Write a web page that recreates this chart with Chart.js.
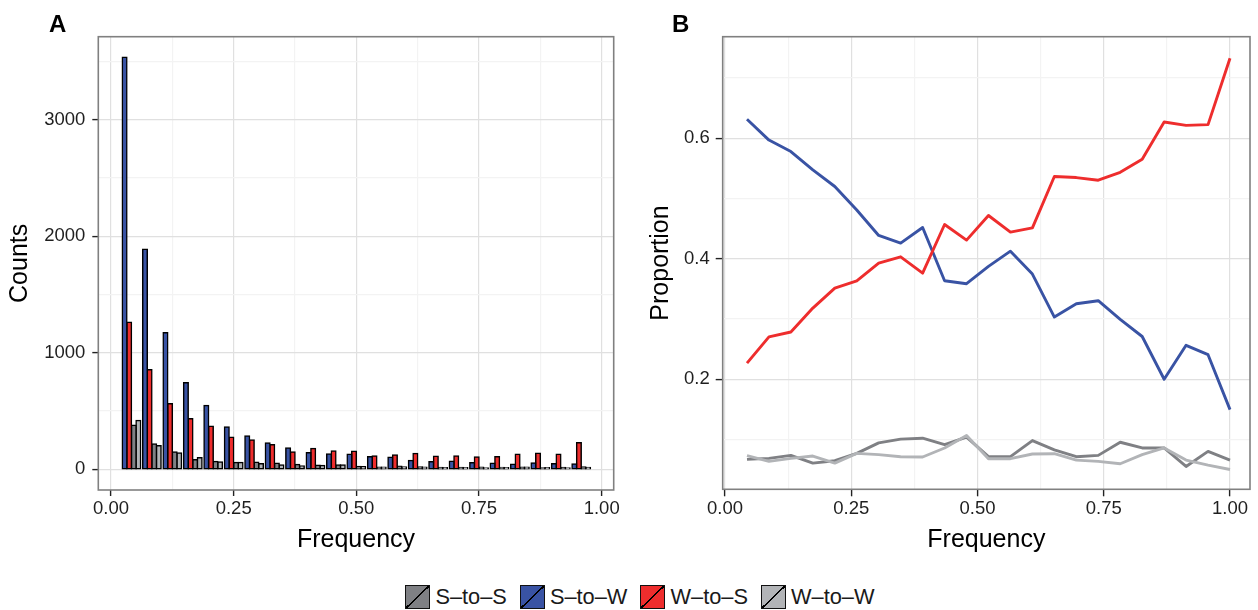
<!DOCTYPE html>
<html>
<head>
<meta charset="utf-8">
<script src="https://cdn.jsdelivr.net/npm/chart.js@4.4.0/dist/chart.umd.min.js"></script>
<style>
html,body{margin:0;padding:0;background:#fff;width:1258px;height:610px;overflow:hidden;font-family:'Liberation Sans',Arial,Helvetica,sans-serif;}
#cA{position:absolute;left:0;top:0;}
#cB{position:absolute;left:640px;top:0;}
.pl{position:absolute;font-weight:bold;font-size:24px;line-height:24px;color:#000;}
#legend{position:absolute;left:0;top:585px;width:1280px;height:24px;display:flex;justify-content:center;align-items:center;}
.item{display:flex;align-items:center;margin:0 6.5px;}
.sw{width:25px;height:24px;box-sizing:border-box;border:1.3px solid #111;}
.lt{font-size:21.8px;margin-left:5px;color:#1a1a1a;white-space:nowrap;}
</style>
</head>
<body>
<canvas id="cA" width="629" height="570"></canvas>
<canvas id="cB" width="618" height="570"></canvas>
<div class="pl" style="left:49px;top:11.7px;">A</div>
<div class="pl" style="left:672px;top:11.7px;">B</div>
<div id="legend"></div>
<script>
// ---------- DATA ----------
const seriesNames = ['S\u2013to\u2013S', 'S\u2013to\u2013W', 'W\u2013to\u2013S', 'W\u2013to\u2013W'];

// Panel A: counts per frequency bin (bin centres)
const binsA = [0.0417, 0.0833, 0.125, 0.1667, 0.2083, 0.25, 0.2917, 0.3333, 0.375, 0.4167, 0.4583, 0.5,
               0.5417, 0.5833, 0.625, 0.6667, 0.7083, 0.75, 0.7917, 0.8333, 0.875, 0.9167, 0.9583];
const countsSS = [378, 217, 149, 83, 68, 58, 62, 53, 41, 36, 38, 24, 18, 27, 21, 15, 16, 18, 17, 18, 12, 16, 20];
const countsSW = [3533, 1887, 1172, 742, 547, 364, 287, 226, 183, 143, 132, 129, 109, 103, 77, 66, 69, 57, 52, 43, 54, 49, 46];
const countsWS = [1262, 854, 562, 433, 370, 275, 252, 212, 149, 178, 158, 155, 115, 123, 135, 112, 115, 106, 109, 129, 138, 129, 229];
const countsWW = [418, 203, 140, 99, 63, 58, 49, 38, 29, 34, 38, 23, 18, 21, 19, 14, 14, 12, 14, 18, 14, 12, 16];

// Panel B: proportions per frequency point
const freqB = [0.0435, 0.087, 0.1304, 0.1739, 0.2174, 0.2609, 0.3043, 0.3478, 0.3913, 0.4348, 0.4783, 0.5217,
               0.5652, 0.6087, 0.6522, 0.6957, 0.7391, 0.7826, 0.8261, 0.8696, 0.913, 0.9565, 1.0];
const propSS = [0.0670, 0.0687, 0.0737, 0.0609, 0.0648, 0.0771, 0.0944, 0.1006, 0.1022, 0.0916, 0.1039, 0.0715,
                0.0715, 0.0983, 0.0827, 0.0715, 0.0737, 0.0955, 0.0860, 0.0860, 0.0553, 0.0804, 0.0659];
const propSW = [0.6315, 0.597, 0.578, 0.5475, 0.520, 0.481, 0.4387, 0.426, 0.452, 0.3635, 0.3586, 0.3873,
                0.4127, 0.3746, 0.3033, 0.3254, 0.3304, 0.2994, 0.271, 0.200, 0.2564, 0.2408, 0.1497];
const propWS = [0.2268, 0.2704, 0.2785, 0.3182, 0.3514, 0.3635, 0.3928, 0.4033, 0.3762, 0.4569, 0.431, 0.4718,
                0.4442, 0.4514, 0.5365, 0.5348, 0.5304, 0.5436, 0.5652, 0.627, 0.6215, 0.6227, 0.7328];
const propWW = [0.0732, 0.0637, 0.0687, 0.0726, 0.0609, 0.0771, 0.0749, 0.0715, 0.0710, 0.0860, 0.1067, 0.0682,
                0.0682, 0.0760, 0.0765, 0.0659, 0.0637, 0.0598, 0.0749, 0.0860, 0.0659, 0.0575, 0.0503];

// Ticks
const xTickValues = [0, 0.25, 0.5, 0.75, 1];
const xTickLabels = ['0.00', '0.25', '0.50', '0.75', '1.00'];
const xMinorValues = [0.125, 0.375, 0.625, 0.875];
const yTickValuesA = [0, 1000, 2000, 3000];
const yTickLabelsA = ['0', '1000', '2000', '3000'];
const yMinorValuesA = [500, 1500, 2500, 3500];
const yTickValuesB = [0.2, 0.4, 0.6];
const yTickLabelsB = ['0.2', '0.4', '0.6'];
const yMinorValuesB = [0.1, 0.3, 0.5, 0.7];

// ---------- STYLE ----------
const colSS = '#7F8084', colSW = '#3953A4', colWS = '#EE2D2D', colWW = '#B2B4B7';
const GRID_MAJOR = '#e0e0e0', GRID_MINOR = '#f3f3f3';
const FONT = "'Liberation Sans', Arial, Helvetica, sans-serif";
Chart.defaults.font.family = FONT;
Chart.defaults.animation = false;

function near(v, arr) { return arr.findIndex(a => Math.abs(a - v) < 1e-9); }
function makeScale(o) {
  const all = o.major.concat(o.minor).sort((a, b) => a - b);
  return {
    type: 'linear', min: o.min, max: o.max, offset: false,
    afterBuildTicks: sc => { sc.ticks = all.map(v => ({ value: v })); },
    afterFit: sc => { if (o.width !== undefined) sc.width = o.width; if (o.height !== undefined) sc.height = o.height; },
    ticks: {
      autoSkip: false, maxRotation: 0, minRotation: 0,
      font: { size: 18.5 }, color: '#1f1f1f', padding: o.tickPad,
      callback: v => { const i = near(v, o.major); return i >= 0 ? o.labels[i] : ''; }
    },
    grid: {
      offset: false,
      color: c => near(c.tick.value, o.major) >= 0 ? GRID_MAJOR : GRID_MINOR,
      lineWidth: 1.2,
      drawTicks: true, tickLength: o.tickLen, tickWidth: 1.4,
      tickColor: c => near(c.tick.value, o.major) >= 0 ? '#222222' : 'rgba(0,0,0,0)'
    },
    border: { display: false },
    title: { display: true, text: o.title, font: { size: 25 }, color: '#000', padding: o.titlePad }
  };
}
const panelBorder = {
  id: 'panelBorder',
  afterDatasetsDraw(chart) {
    const { ctx, chartArea: a } = chart;
    ctx.save();
    ctx.strokeStyle = '#808080';
    ctx.lineWidth = 1.6;
    ctx.strokeRect(a.left, a.top, a.right - a.left, a.bottom - a.top);
    ctx.restore();
  }
};

// ---------- PANEL A ----------
function barDs(label, vals, color) {
  return {
    label, data: binsA.map((x, i) => ({ x, y: vals[i] })),
    backgroundColor: color, borderColor: '#000', borderWidth: 1.5,
    barPercentage: 1.0, categoryPercentage: 0.9, inflateAmount: 0.75, borderSkipped: false
  };
}
new Chart(document.getElementById('cA'), {
  type: 'bar',
  data: {
    datasets: [
      barDs(seriesNames[1], countsSW, colSW),
      barDs(seriesNames[2], countsWS, colWS),
      barDs(seriesNames[0], countsSS, colSS),
      barDs(seriesNames[3], countsWW, colWW)
    ]
  },
  options: {
    responsive: false, animation: false,
    layout: { padding: { top: 36.7, right: 15.3, bottom: 0, left: 0 } },
    plugins: { legend: { display: false }, tooltip: { enabled: false } },
    scales: {
      x: makeScale({ min: -0.0259, max: 1.0245, major: xTickValues, minor: xMinorValues, labels: xTickLabels,
                     height: 80, tickLen: 6, tickPad: 2, title: 'Frequency', titlePad: { top: 0, bottom: 15 } }),
      y: makeScale({ min: -177, max: 3710, major: yTickValuesA, minor: yMinorValuesA, labels: yTickLabelsA,
                     width: 98.3, tickLen: 6, tickPad: 7, title: 'Counts', titlePad: { top: 5, bottom: 0 } })
    }
  },
  plugins: [panelBorder]
});

// ---------- PANEL B ----------
function lineDs(label, vals, color, order) {
  return {
    label, data: freqB.map((x, i) => ({ x, y: vals[i] })),
    borderColor: color, backgroundColor: color, borderWidth: 2.9,
    pointRadius: 0, tension: 0, fill: false, borderJoinStyle: 'round', borderCapStyle: 'butt', order
  };
}
new Chart(document.getElementById('cB'), {
  type: 'line',
  data: {
    datasets: [
      lineDs(seriesNames[0], propSS, colSS, 4),
      lineDs(seriesNames[1], propSW, colSW, 3),
      lineDs(seriesNames[2], propWS, colWS, 2),
      lineDs(seriesNames[3], propWW, colWW, 1)
    ]
  },
  options: {
    responsive: false, animation: false,
    layout: { padding: { top: 36.7, right: 8, bottom: 0, left: 0 } },
    plugins: { legend: { display: false }, tooltip: { enabled: false } },
    scales: {
      x: makeScale({ min: -0.0046, max: 1.0396, major: xTickValues, minor: xMinorValues, labels: xTickLabels,
                     height: 80.7, tickLen: 7, tickPad: 2, title: 'Frequency', titlePad: { top: 0, bottom: 15 } }),
      y: makeScale({ min: 0.0174, max: 0.7686, major: yTickValuesB, minor: yMinorValuesB, labels: yTickLabelsB,
                     width: 82.7, tickLen: 7, tickPad: 6, title: 'Proportion', titlePad: { top: 6, bottom: 0 } })
    }
  },
  plugins: [panelBorder]
});

// ---------- LEGEND ----------
const legendColors = [colSS, colSW, colWS, colWW];
const leg = document.getElementById('legend');
seriesNames.forEach((name, i) => {
  const it = document.createElement('div'); it.className = 'item';
  const sw = document.createElement('div'); sw.className = 'sw';
  const c = legendColors[i];
  sw.style.background = `linear-gradient(to bottom right, ${c} 0, ${c} calc(50% - 0.8px), #000 calc(50% - 0.8px), #000 calc(50% + 0.8px), ${c} calc(50% + 0.8px), ${c} 100%)`;
  const t = document.createElement('span'); t.className = 'lt'; t.textContent = name;
  it.appendChild(sw); it.appendChild(t); leg.appendChild(it);
});
</script>
</body>
</html>
